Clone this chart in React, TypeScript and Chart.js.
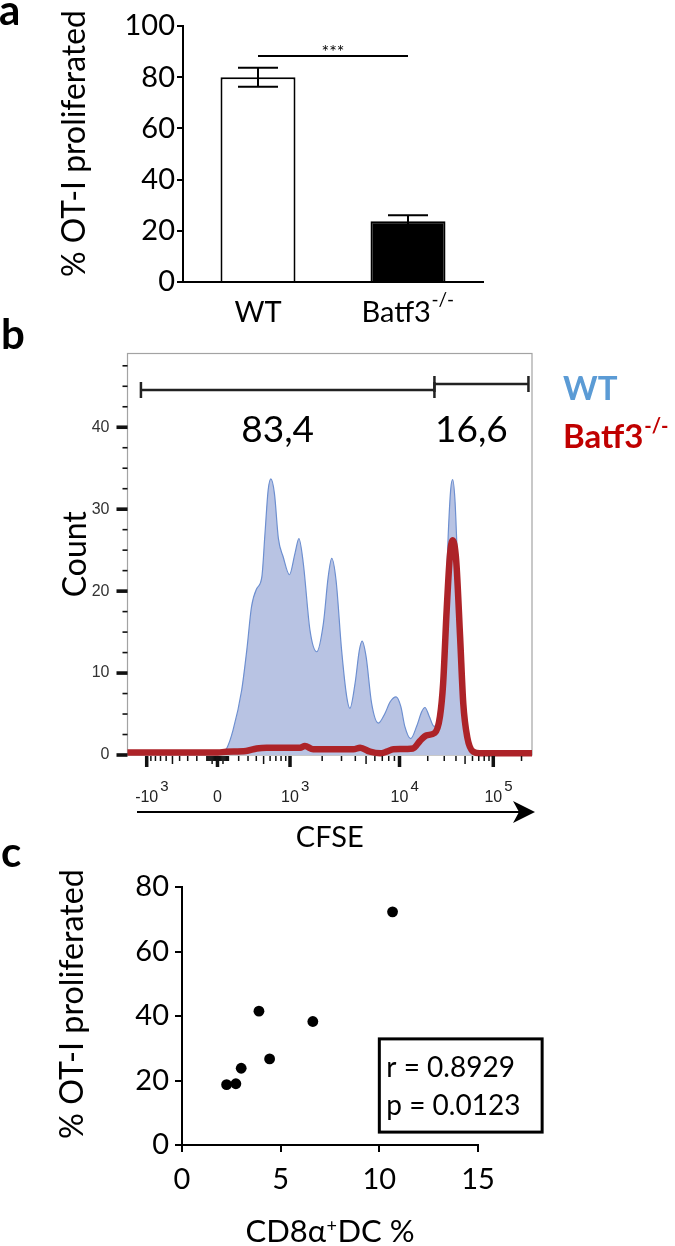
import React, { useEffect, useRef } from 'react';
import { Chart, registerables } from 'chart.js';

Chart.register(...registerables);

const SANS = 'Lato, "Open Sans", "DejaVu Sans", sans-serif';
const FLOW = '"Liberation Sans", Arial, sans-serif';

// ---------------- Panel a : % OT-I proliferated ----------------
const genotypeLabels = ['WT', 'Batf3'];
const genotypeSuperscripts = ['', '-/-'];
const proliferatedMean = [80, 23.7];
const proliferatedSem = [3.7, 2.4];
const barFills = ['#ffffff', '#000000'];
const significanceText = '***';
const significanceLevel = 88.3;

// ---------------- Panel b : CFSE histogram ----------------
// x = display channel (0..1024), y = count
const wtChannel = [0, 229, 251, 267, 289, 302, 314, 327, 340, 348, 356, 363, 372, 382, 394, 410, 424, 434, 445, 462, 479, 496, 508, 517, 528, 542, 555, 563, 576, 587, 594, 604, 618, 635, 652, 665, 680, 692, 702, 717, 732, 745, 753, 764, 776, 791, 804, 812, 818, 823, 829, 835, 842, 850, 859, 871, 882, 1024];
const wtCount = [0, 0, 0.8, 3.0, 7.9, 12.8, 18.1, 20.3, 21.7, 27.0, 32.3, 33.7, 31.9, 26.4, 24.2, 22.0, 24.6, 26.4, 23.4, 15.2, 12.6, 16.1, 21.7, 24.0, 21.3, 12.8, 7.1, 5.7, 8.7, 12.8, 13.9, 12.0, 6.3, 3.9, 5.1, 6.5, 7.1, 5.9, 3.5, 2.0, 3.5, 5.3, 5.8, 4.7, 3.5, 5.5, 16.9, 27.0, 32.3, 33.6, 31.1, 24.2, 16.1, 6.7, 2.2, 0.4, 0, 0];
const batf3Channel = [0, 229, 249, 300, 327, 352, 386, 437, 449, 470, 513, 572, 589, 614, 640, 656, 673, 723, 740, 757, 778, 791, 799, 808, 816, 823, 832, 842, 850, 860, 875, 892, 1024];
const batf3Count = [0.3, 0.3, 0.4, 0.5, 0.8, 0.9, 0.9, 0.9, 1.1, 0.7, 0.7, 0.7, 0.9, 0.4, 0.2, 0.4, 0.7, 0.8, 1.7, 2.4, 2.7, 4.7, 8.7, 17.7, 24.2, 26.2, 23.8, 14.4, 6.3, 2.2, 0.4, 0.2, 0.2];

const cfseAnchorValues = [-1000, 0, 1000, 10000, 100000];
const cfseAnchorChannels = [48.6, 227.8, 411.4, 688.6, 926];
const cfseTickBase = ['-10', '0', '10', '10', '10'];
const cfseTickExp = ['3', '', '3', '4', '5'];
const CFSE_COFACTOR = 400;

const gateStart = [34, 777];
const gateEnd = [777, 1015];
const gatePercent = ['83,4', '16,6'];
const legendNames = ['WT', 'Batf3'];
const legendSuperscripts = ['', '-/-'];
const legendColors = ['#5b9bd5', '#c00000'];

const COUNT_MAX = 49;
const COUNT_MAJOR = 10;
const COUNT_MINOR = 2.5;

// ---------------- Panel c : correlation ----------------
const dcPercent = [2.26, 2.73, 3.0, 3.9, 4.44, 6.63, 10.67];
const otiPercent = [18.7, 19.0, 23.8, 41.5, 26.7, 38.3, 72.3];
const statLines = ['r = 0.8929', 'p = 0.0123'];

// ---------------- helpers ----------------
function cfseToChannel(v: number): number {
  const us = cfseAnchorValues.map((a) => Math.asinh(a / CFSE_COFACTOR));
  const u = Math.asinh(v / CFSE_COFACTOR);
  let i = 0;
  while (i < us.length - 2 && u > us[i + 1]) i++;
  const t = (u - us[i]) / (us[i + 1] - us[i]);
  return cfseAnchorChannels[i] + t * (cfseAnchorChannels[i + 1] - cfseAnchorChannels[i]);
}

function cfseMinorValues(): { v: number; m: number }[] {
  const out: { v: number; m: number }[] = [];
  [10, 100, 1000, 10000, 100000].forEach((dec) => {
    for (let m = 1; m <= 9; m++) {
      const v = m * dec;
      if (cfseAnchorValues.includes(v)) continue;
      out.push({ v, m });
      if (dec < 1000) out.push({ v: -v, m });
    }
  });
  return out;
}

function fitSize(ctx: CanvasRenderingContext2D, text: string, target: number, weight = '') {
  ctx.font = `${weight} 30px ${SANS}`;
  const w = ctx.measureText(text).width;
  return (30 * target) / w;
}

function drawRotated(ctx: CanvasRenderingContext2D, text: string, baselineX: number, centerY: number, font: string) {
  ctx.save();
  ctx.font = font;
  ctx.translate(baselineX, centerY);
  ctx.rotate(-Math.PI / 2);
  ctx.textAlign = 'center';
  ctx.textBaseline = 'alphabetic';
  ctx.fillText(text, 0, 0);
  ctx.restore();
}

function drawWithSup(
  ctx: CanvasRenderingContext2D,
  base: string,
  sup: string,
  cx: number,
  baseline: number,
  baseFont: string,
  supFont: string,
  rise: number,
  tail = ''
) {
  ctx.font = baseFont;
  const bw = ctx.measureText(base).width;
  const tw = tail ? ctx.measureText(tail).width : 0;
  ctx.font = supFont;
  const sw = sup ? ctx.measureText(sup).width + 1 : 0;
  let x = cx - (bw + sw + tw) / 2;
  ctx.textAlign = 'left';
  ctx.textBaseline = 'alphabetic';
  ctx.font = baseFont;
  ctx.fillText(base, x, baseline);
  x += bw;
  if (sup) {
    ctx.font = supFont;
    ctx.fillText(sup, x + 0.5, baseline - rise);
    x += sw;
  }
  if (tail) {
    ctx.font = baseFont;
    ctx.fillText(tail, x, baseline);
  }
}

// ---------------- Panel a ----------------
const A_TOP = 0;
function makePanelA(canvas: HTMLCanvasElement) {
  const overlay = {
    id: 'panelAOverlay',
    afterDraw(chart: any) {
      const { ctx, chartArea: a } = chart;
      const xs = chart.scales.x;
      const ys = chart.scales.y;
      ctx.save();
      ctx.strokeStyle = '#000';
      ctx.fillStyle = '#000';
      ctx.lineWidth = 2;
      proliferatedMean.forEach((m, i) => {
        const cx = xs.getPixelForValue(i);
        const t = ys.getPixelForValue(m + proliferatedSem[i]);
        const b = ys.getPixelForValue(m - proliferatedSem[i]);
        const cap = 20;
        ctx.beginPath();
        ctx.moveTo(cx, t);
        ctx.lineTo(cx, b);
        ctx.moveTo(cx - cap, t);
        ctx.lineTo(cx + cap, t);
        ctx.moveTo(cx - cap, b);
        ctx.lineTo(cx + cap, b);
        ctx.stroke();
      });
      const sy = ys.getPixelForValue(significanceLevel);
      const x0 = xs.getPixelForValue(0);
      const x1 = xs.getPixelForValue(1);
      ctx.beginPath();
      ctx.moveTo(x0, sy);
      ctx.lineTo(x1, sy);
      ctx.stroke();
      ctx.font = `18px ${SANS}`;
      ctx.textAlign = 'center';
      ctx.textBaseline = 'alphabetic';
      ctx.fillText(significanceText, (x0 + x1) / 2, sy + 2);

      genotypeLabels.forEach((g, i) => {
        drawWithSup(ctx, g, genotypeSuperscripts[i], xs.getPixelForValue(i), a.bottom + 40, `29px ${SANS}`, `19px ${SANS}`, 16);
      });

      const title = '% OT-I proliferated';
      const size = fitSize(ctx, title, 267);
      drawRotated(ctx, title, 84.5, a.top + 117.5, `${size}px ${SANS}`);

      ctx.font = `bold 42px ${SANS}`;
      ctx.textAlign = 'left';
      ctx.fillText('a', -1, 25 - A_TOP);
      ctx.restore();
    },
  };
  return new Chart(canvas, {
    type: 'bar',
    data: {
      labels: genotypeLabels,
      datasets: [
        {
          data: proliferatedMean,
          backgroundColor: barFills,
          borderColor: '#000',
          borderWidth: 2,
          borderSkipped: 'bottom',
          barPercentage: 1,
          categoryPercentage: 0.5,
        },
      ],
    },
    options: {
      responsive: false,
      animation: false,
      events: [],
      layout: { padding: { left: 0, top: 26, right: 192, bottom: 0 } },
      plugins: { legend: { display: false }, tooltip: { enabled: false } },
      scales: {
        x: {
          type: 'category',
          offset: true,
          grid: { display: false },
          border: { display: true, color: '#000', width: 2 },
          ticks: { display: false },
          afterFit: (s: any) => {
            s.height = 58;
          },
        },
        y: {
          min: 0,
          max: 100,
          ticks: { stepSize: 20, font: { family: SANS, size: 29 }, color: '#000', padding: 2 },
          grid: { display: true, drawOnChartArea: false, drawTicks: true, tickLength: 6, lineWidth: 2, color: '#000' },
          border: { display: true, color: '#000', width: 2 },
          afterFit: (s: any) => {
            s.width = 183;
          },
        },
      },
    } as any,
    plugins: [overlay],
  });
}

// ---------------- Panel b ----------------
const B_TOP = 300;
function makePanelB(canvas: HTMLCanvasElement) {
  const overlay = {
    id: 'panelBOverlay',
    beforeDatasetsDraw(chart: any) {
      const { ctx, chartArea: a } = chart;
      ctx.save();
      ctx.strokeStyle = '#a3a3a3';
      ctx.lineWidth = 1.2;
      ctx.strokeRect(a.left, a.top, a.right - a.left, a.bottom - a.top);
      ctx.restore();
    },
    afterDraw(chart: any) {
      const { ctx, chartArea: a } = chart;
      const xs = chart.scales.x;
      const ys = chart.scales.y;
      ctx.save();
      ctx.fillStyle = '#111';
      // count axis ticks
      for (let v = 0; v <= COUNT_MAX; v += COUNT_MINOR) {
        const py = ys.getPixelForValue(v);
        if (v % COUNT_MAJOR === 0) ctx.fillRect(a.left - 11, py - 1.8, 11, 3.6);
        else ctx.fillRect(a.left - 5, py - 0.8, 5, 1.6);
      }
      // CFSE axis ticks
      const drawTick = (v: number, len: number, w: number) => {
        const ch = cfseToChannel(v);
        if (ch < 0 || ch > 1024) return;
        const px = xs.getPixelForValue(ch);
        ctx.fillRect(px - w / 2, a.bottom + 1, w, len);
      };
      cfseMinorValues().forEach(({ v, m }) => drawTick(v, m === 5 ? 8 : 5, 1.5));
      cfseAnchorValues.forEach((v) => drawTick(v, 11, 3.5));
      // CFSE tick labels
      ctx.fillStyle = '#222';
      cfseAnchorValues.forEach((v, i) => {
        const px = xs.getPixelForValue(cfseToChannel(v));
        ctx.font = `16px ${FLOW}`;
        const w = ctx.measureText(cfseTickBase[i]).width;
        ctx.textAlign = 'left';
        ctx.textBaseline = 'alphabetic';
        ctx.fillText(cfseTickBase[i], px - w / 2, a.bottom + 47);
        if (cfseTickExp[i]) {
          ctx.font = `15px ${FLOW}`;
          ctx.fillText(cfseTickExp[i], px + w / 2 + 2, a.bottom + 36);
        }
      });
      // arrow
      const ay = a.bottom + 57;
      ctx.strokeStyle = '#000';
      ctx.fillStyle = '#000';
      ctx.lineWidth = 2.2;
      ctx.beginPath();
      ctx.moveTo(a.left + 9.5, ay);
      ctx.lineTo(a.right - 10, ay);
      ctx.stroke();
      ctx.beginPath();
      ctx.moveTo(a.right + 3, ay);
      ctx.lineTo(a.right - 19, ay - 11);
      ctx.lineTo(a.right - 13, ay);
      ctx.lineTo(a.right - 19, ay + 11);
      ctx.closePath();
      ctx.fill();
      // axis titles
      ctx.font = `29px ${SANS}`;
      ctx.textAlign = 'center';
      ctx.fillText('CFSE', (a.left + a.right) / 2, a.bottom + 92);
      drawRotated(ctx, 'Count', 86, (a.top + a.bottom) / 2, `32px ${SANS}`);
      // gate brackets
      const gateY = [a.top + 36.5, a.top + 30.5];
      ctx.strokeStyle = '#222';
      ctx.lineWidth = 2.5;
      gateStart.forEach((s, i) => {
        const x0 = xs.getPixelForValue(s);
        const x1 = xs.getPixelForValue(gateEnd[i]);
        const gy = gateY[i];
        ctx.beginPath();
        ctx.moveTo(x0, gy);
        ctx.lineTo(x1, gy);
        ctx.moveTo(x0, gy - 8);
        ctx.lineTo(x0, gy + 8);
        ctx.moveTo(x1, gy - 8);
        ctx.lineTo(x1, gy + 8);
        ctx.stroke();
        ctx.font = `37px ${SANS}`;
        ctx.fillStyle = '#000';
        ctx.textAlign = 'center';
        const cx = xs.getPixelForValue((s + gateEnd[i]) / 2) - 10;
        ctx.fillText(gatePercent[i], cx, a.top + 88.5);
      });
      // legend
      legendNames.forEach((n, i) => {
        const bl = a.top + 46.5 + i * 48;
        ctx.fillStyle = legendColors[i];
        ctx.textAlign = 'left';
        ctx.font = `bold 33px ${SANS}`;
        const lx = a.right + 31;
        ctx.fillText(n, lx, bl);
        if (legendSuperscripts[i]) {
          const w = ctx.measureText(n).width;
          ctx.font = `bold 20px ${SANS}`;
          ctx.fillText(legendSuperscripts[i], lx + w + 1, bl - 15);
        }
      });
      // panel letter
      ctx.fillStyle = '#000';
      ctx.font = `bold 42px ${SANS}`;
      ctx.textAlign = 'left';
      ctx.fillText('b', 1, 349 - B_TOP);
      ctx.restore();
    },
  };
  return new Chart(canvas, {
    type: 'line',
    data: {
      datasets: [
        {
          label: 'Batf3-/-',
          data: batf3Channel.map((c, i) => ({ x: c, y: batf3Count[i] })),
          borderColor: '#ad2328',
          borderWidth: 6.5,
          pointRadius: 0,
          fill: false,
          cubicInterpolationMode: 'monotone',
          order: 0,
          clip: 10,
        },
        {
          label: 'WT',
          data: wtChannel.map((c, i) => ({ x: c, y: wtCount[i] })),
          borderColor: '#6d8fd0',
          borderWidth: 1.2,
          backgroundColor: '#b8c3e3',
          fill: 'origin',
          pointRadius: 0,
          cubicInterpolationMode: 'monotone',
          order: 1,
        },
      ],
    },
    options: {
      responsive: false,
      animation: false,
      events: [],
      layout: { padding: { left: 0, top: 53.5, right: 143, bottom: 95 } },
      plugins: { legend: { display: false }, tooltip: { enabled: false } },
      scales: {
        x: { type: 'linear', min: 0, max: 1024, display: false },
        y: {
          min: 0,
          max: COUNT_MAX,
          ticks: { stepSize: COUNT_MAJOR, includeBounds: false, font: { family: FLOW, size: 16 }, color: '#333', padding: 0 },
          grid: { display: true, drawOnChartArea: false, drawTicks: true, tickLength: 18, color: 'rgba(0,0,0,0)' },
          border: { display: false },
          afterFit: (s: any) => {
            s.width = 127.5;
          },
        },
      },
    } as any,
    plugins: [overlay],
  });
}

// ---------------- Panel c ----------------
const C_TOP = 840;
function makePanelC(canvas: HTMLCanvasElement) {
  const overlay = {
    id: 'panelCOverlay',
    afterDraw(chart: any) {
      const { ctx, chartArea: a } = chart;
      const xs = chart.scales.x;
      const ys = chart.scales.y;
      ctx.save();
      ctx.fillStyle = '#000';
      ctx.strokeStyle = '#000';
      // stats box
      const bx0 = xs.getPixelForValue(10);
      const bx1 = xs.getPixelForValue(18.25);
      const by0 = ys.getPixelForValue(32.9);
      const by1 = ys.getPixelForValue(4);
      ctx.lineWidth = 3;
      ctx.strokeRect(bx0, by0, bx1 - bx0, by1 - by0);
      ctx.font = `28px ${SANS}`;
      ctx.textAlign = 'left';
      ctx.textBaseline = 'alphabetic';
      statLines.forEach((s, i) => ctx.fillText(s, bx0 + 7, by0 + 38 + i * 38));
      // x title
      drawWithSup(ctx, 'CD8α', '+', (a.left + a.right) / 2, a.bottom + 97, `31px ${SANS}`, `18px ${SANS}`, 10, 'DC %');
      // y title
      const title = '% OT-I proliferated';
      const size = fitSize(ctx, title, 270);
      drawRotated(ctx, title, 83, a.top + 117, `${size}px ${SANS}`);
      // panel letter
      ctx.font = `bold 42px ${SANS}`;
      ctx.textAlign = 'left';
      ctx.fillText('c', 1, 867 - C_TOP);
      ctx.restore();
    },
  };
  return new Chart(canvas, {
    type: 'scatter',
    data: {
      datasets: [
        {
          data: dcPercent.map((x, i) => ({ x, y: otiPercent[i] })),
          backgroundColor: '#000',
          borderColor: '#000',
          pointRadius: 5.4,
          pointBorderWidth: 0,
        },
      ],
    },
    options: {
      responsive: false,
      animation: false,
      events: [],
      layout: { padding: { left: 0, top: 47, right: 197, bottom: 0 } },
      plugins: { legend: { display: false }, tooltip: { enabled: false } },
      scales: {
        x: {
          type: 'linear',
          min: 0,
          max: 15,
          ticks: { stepSize: 5, font: { family: SANS, size: 29 }, color: '#000', padding: 10 },
          grid: { display: true, drawOnChartArea: false, drawTicks: true, tickLength: 7, lineWidth: 2, color: '#000' },
          border: { display: true, color: '#000', width: 2 },
          afterFit: (s: any) => {
            s.height = 101;
          },
        },
        y: {
          min: 0,
          max: 80,
          ticks: { stepSize: 20, font: { family: SANS, size: 29 }, color: '#000', padding: 6 },
          grid: { display: true, drawOnChartArea: false, drawTicks: true, tickLength: 7, lineWidth: 2, color: '#000' },
          border: { display: true, color: '#000', width: 2 },
          afterFit: (s: any) => {
            s.width = 182;
          },
        },
      },
    } as any,
    plugins: [overlay],
  });
}

function ChartCanvas({ top, height, make }: { top: number; height: number; make: (c: HTMLCanvasElement) => Chart }) {
  const ref = useRef<HTMLCanvasElement | null>(null);
  useEffect(() => {
    if (!ref.current) return;
    const chart = make(ref.current);
    return () => chart.destroy();
  }, [make]);
  return (
    <canvas
      ref={ref}
      width={675}
      height={height}
      style={{ position: 'absolute', left: 0, top, width: 675, height, display: 'block' }}
    />
  );
}

export default function App() {
  return (
    <div style={{ position: 'absolute', left: 0, top: 0, width: 675, height: 1246, background: '#fff', overflow: 'hidden' }}>
      <ChartCanvas top={A_TOP} height={340} make={makePanelA} />
      <ChartCanvas top={B_TOP} height={550} make={makePanelB} />
      <ChartCanvas top={C_TOP} height={406} make={makePanelC} />
    </div>
  );
}
